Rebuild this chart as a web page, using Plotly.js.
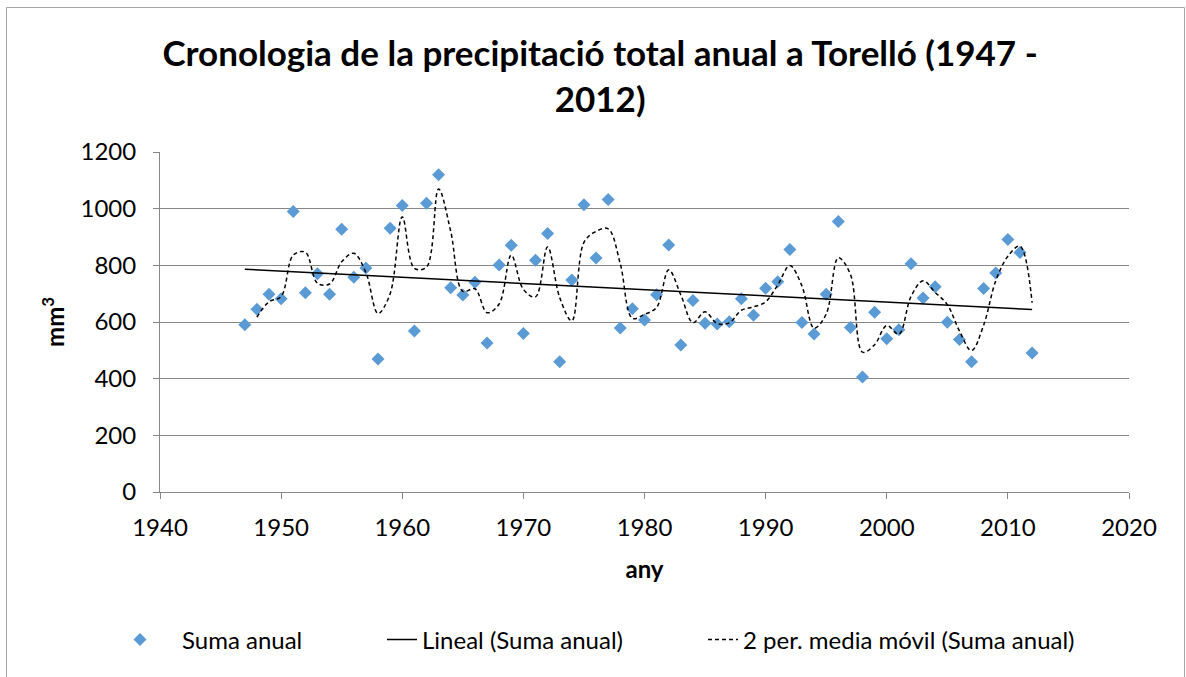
<!DOCTYPE html>
<html>
<head>
<meta charset="utf-8">
<script src="https://cdn.plot.ly/plotly-3.0.1.min.js"></script>
<style>
  html, body { margin: 0; padding: 0; background: #ffffff; }
  #chart { width: 1186px; height: 677px; }
</style>
</head>
<body>
<div id="chart"></div>
<script>
// ---- Data ----
const years = [1947, 1948, 1949, 1950, 1951, 1952, 1953, 1954, 1955, 1956,
  1957, 1958, 1959, 1960, 1961, 1962, 1963, 1964, 1965, 1966,
  1967, 1968, 1969, 1970, 1971, 1972, 1973, 1974, 1975, 1976,
  1977, 1978, 1979, 1980, 1981, 1982, 1983, 1984, 1985, 1986,
  1987, 1988, 1989, 1990, 1991, 1992, 1993, 1994, 1995, 1996,
  1997, 1998, 1999, 2000, 2001, 2002, 2003, 2004, 2005, 2006,
  2007, 2008, 2009, 2010, 2011, 2012];

const sumaAnual = [590, 645, 698, 682, 990, 703, 770, 698, 927, 758,
  791, 469, 931, 1011, 568, 1019, 1120, 721, 695, 740,
  526, 801, 871, 559, 818, 912, 460, 748, 1014, 826,
  1032, 579, 647, 607, 696, 872, 519, 676, 596, 593,
  601, 682, 624, 719, 742, 856, 598, 558, 698, 955,
  581, 406, 634, 541, 573, 806, 685, 724, 599, 538,
  460, 718, 773, 891, 845, 491];

// 2-period moving average as drawn (starts at 1948)
const mediaMovilYears = years.slice(1);
const mediaMovil = [617.5, 671.5, 690, 836, 846.5, 736.5, 734, 812.5, 842.5,
  774.5, 630, 700, 971, 789.5, 793.5, 1069.5, 920.5, 708, 717.5,
  633, 663.5, 836, 715, 688.5, 865, 686, 604, 881, 920,
  929, 805.5, 613, 627, 651.5, 784, 695.5, 597.5, 636, 594.5,
  597, 641.5, 653, 671.5, 730.5, 799, 727, 578, 628, 826.5,
  768, 493.5, 520, 587.5, 557, 689.5, 745.5, 704.5, 661.5, 568.5,
  499, 589, 745.5, 832, 868, 668];

// Linear trend as drawn (end points)
const linealYears = [1947, 2012];
const linealValues = [786, 644];

const xTicks = [1940, 1950, 1960, 1970, 1980, 1990, 2000, 2010, 2020];
const yTicks = [0, 200, 400, 600, 800, 1000, 1200];

const titleText = 'Cronologia de la precipitació total anual a Torelló (1947 -<br>2012)';
const xTitle = 'any';
const yTitle = 'mm<sup>3</sup>';
const names = ['Suma anual', 'Lineal (Suma anual)', '2 per. media móvil (Suma anual)'];

// ---- Chart ----
const FONT = 'Lato, Carlito, Calibri, "Open Sans", sans-serif';
const GRID = '#878787';
const PL = 160, PW = 969, PB = 492, PH = 340;
const px2x = p => (p - PL) / PW;
const px2y = p => (PB - p) / PH;

const traces = [
  {
    type: 'scatter', mode: 'markers', name: names[0], legend: 'legend',
    x: years, y: sumaAnual,
    marker: { symbol: 'diamond', size: 10, color: '#5B9BD5', line: { width: 0 } }
  },
  {
    type: 'scatter', mode: 'lines', name: names[1], legend: 'legend2',
    x: linealYears, y: linealValues,
    line: { color: '#000000', width: 1.5 }
  },
  {
    type: 'scatter', mode: 'lines', name: names[2], legend: 'legend3',
    x: mediaMovilYears, y: mediaMovil,
    line: { color: '#000000', width: 1.5, dash: '4px,3px', shape: 'spline', smoothing: 1 }
  }
];

const legendBase = {
  orientation: 'h', xanchor: 'left', yanchor: 'middle', y: px2y(640),
  font: { family: FONT, size: 24, color: '#000000' },
  bgcolor: 'rgba(0,0,0,0)', borderwidth: 0
};

const layout = {
  width: 1186, height: 677,
  paper_bgcolor: '#ffffff', plot_bgcolor: '#ffffff',
  font: { family: FONT, size: 24, color: '#000000' },
  margin: { l: 160, r: 57, t: 152, b: 185, pad: 0, autoexpand: false },
  title: {
    text: titleText,
    font: { family: FONT, size: 35, color: '#000000', weight: 'bold' },
    x: 0.506, xref: 'container', xanchor: 'center',
    y: 1 - 66 / 677, yref: 'container', yanchor: 'middle'
  },
  xaxis: {
    range: [1940, 2020], tickvals: xTicks, ticktext: xTicks.map(String),
    tickangle: 0, automargin: false,
    showgrid: false, zeroline: false,
    showline: true, linecolor: GRID, linewidth: 1,
    ticks: 'outside', ticklen: 6, tickcolor: GRID, tickwidth: 1,
    ticklabelstandoff: 8,
    tickfont: { family: FONT, size: 24, color: '#000000' },
    title: { text: xTitle, font: { family: FONT, size: 24, color: '#000000', weight: 'bold' }, standoff: 21 }
  },
  yaxis: {
    range: [0, 1200], tickvals: yTicks, ticktext: yTicks.map(String),
    automargin: false,
    showgrid: true, gridcolor: GRID, gridwidth: 1, zeroline: false,
    showline: true, linecolor: GRID, linewidth: 1,
    ticks: 'outside', ticklen: 6, tickcolor: GRID, tickwidth: 1,
    ticklabelstandoff: 12,
    tickfont: { family: FONT, size: 24, color: '#000000' },
    title: { text: yTitle, font: { family: FONT, size: 24, color: '#000000', weight: 'bold' }, standoff: 9 }
  },
  showlegend: true,
  legend: Object.assign({}, legendBase, { x: px2x(98), itemwidth: 74 }),
  legend2: Object.assign({}, legendBase, { x: px2x(382) }),
  legend3: Object.assign({}, legendBase, { x: px2x(703) }),
  shapes: [
    {
      type: 'rect', xref: 'paper', yref: 'paper',
      x0: px2x(6.5), x1: px2x(1184.5),
      y0: px2y(720), y1: px2y(7.5),
      line: { color: '#A6A6A6', width: 1 }, fillcolor: 'rgba(0,0,0,0)', layer: 'below'
    }
  ]
};

Plotly.newPlot('chart', traces, layout, { displayModeBar: false, staticPlot: true });
</script>
</body>
</html>
